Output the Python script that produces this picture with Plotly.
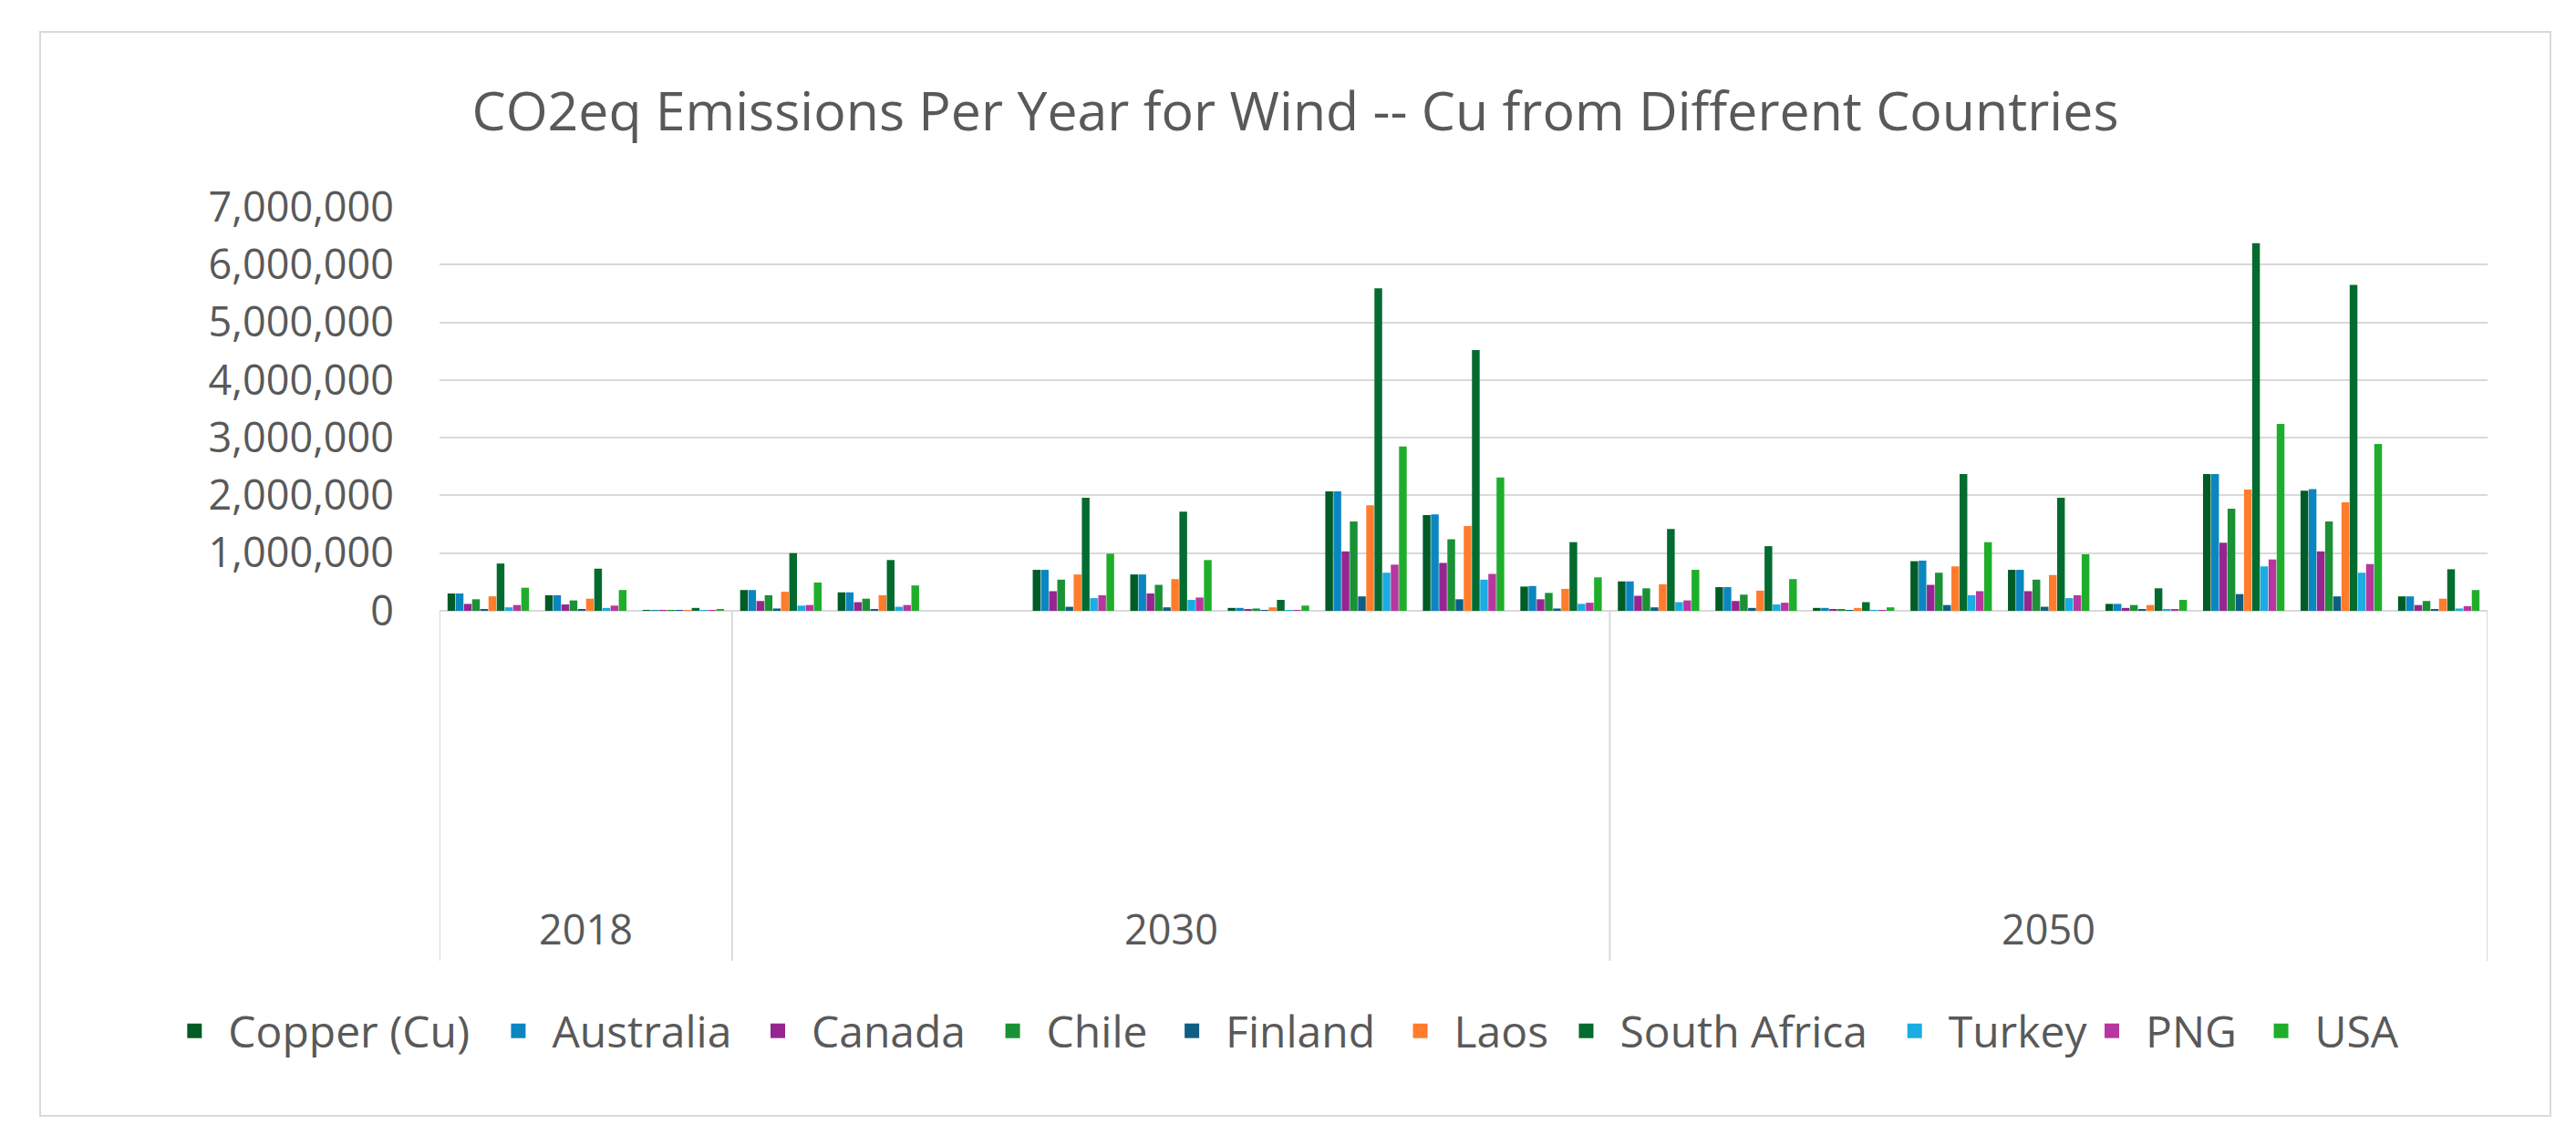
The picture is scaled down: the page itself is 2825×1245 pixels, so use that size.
import plotly.graph_objects as go

# ---- data ----
year_names = ["2018", "2030", "2050"]
groups_per_year = [3, 9, 9]

series_names = ["Copper (Cu)", "Australia", "Canada", "Chile", "Finland",
                "Laos", "South Africa", "Turkey", "PNG", "USA"]

copper = [300000, 270000, 5000, 360000, 320000, 0, 710000, 630000, 50000, 2070000, 1660000, 420000,
          510000, 410000, 50000, 860000, 710000, 120000, 2370000, 2080000, 250000]
australia = [300000, 270000, 5000, 360000, 320000, 0, 710000, 630000, 50000, 2070000, 1670000, 430000,
             510000, 410000, 50000, 870000, 710000, 120000, 2370000, 2110000, 250000]
canada = [120000, 110000, 2000, 170000, 150000, 0, 340000, 300000, 30000, 1030000, 830000, 200000,
          260000, 170000, 20000, 450000, 340000, 50000, 1180000, 1030000, 100000]
chile = [200000, 180000, 3000, 270000, 210000, 0, 540000, 450000, 40000, 1550000, 1240000, 310000,
         390000, 280000, 30000, 660000, 540000, 100000, 1770000, 1550000, 170000]
finland = [30000, 20000, 1000, 40000, 20000, 0, 70000, 60000, 10000, 250000, 200000, 40000,
           60000, 50000, 10000, 100000, 70000, 20000, 290000, 250000, 20000]
laos = [250000, 210000, 3000, 330000, 270000, 0, 630000, 550000, 60000, 1830000, 1470000, 380000,
        460000, 350000, 50000, 770000, 620000, 100000, 2100000, 1880000, 210000]
south_africa = [820000, 730000, 50000, 1000000, 880000, 0, 1960000, 1720000, 190000, 5590000, 4520000, 1190000,
                1420000, 1120000, 150000, 2370000, 1960000, 390000, 6370000, 5650000, 720000]
turkey = [60000, 50000, 1000, 90000, 70000, 0, 220000, 190000, 10000, 660000, 540000, 120000,
          150000, 110000, 10000, 270000, 220000, 20000, 770000, 660000, 40000]
png = [100000, 90000, 1000, 100000, 100000, 0, 270000, 230000, 10000, 800000, 640000, 140000,
       180000, 140000, 10000, 340000, 270000, 20000, 890000, 810000, 80000]
usa = [400000, 360000, 20000, 490000, 440000, 0, 990000, 880000, 90000, 2850000, 2310000, 580000,
       710000, 550000, 60000, 1190000, 980000, 190000, 3240000, 2890000, 360000]

series_values = [copper, australia, canada, chile, finland, laos, south_africa, turkey, png, usa]
colors = ["#005c27", "#0c86c0", "#962590", "#1a9135", "#0f5f85",
          "#ff7c2c", "#036b2f", "#1aace3", "#b8369f", "#1fae2c"]

# horizontal placement (paper x, left edge) of each legend entry
legend_x = [-0.1361, 0.0220, 0.1487, 0.2634, 0.3509, 0.4624, 0.5434, 0.7038, 0.8001, 0.8827]

TEXT = "#595959"
GRID = "#d9d9d9"
FONT = "Open Sans"
LEGEND_Y = -1.0406

# category keys (one per cluster of bars); labels are not shown
categories = []
for yname, n in zip(year_names, groups_per_year):
    categories += [f"{yname} #{k + 1}" for k in range(n)]

fig = go.Figure()
legend_layout = {}
for i, (name, vals, col) in enumerate(zip(series_names, series_values, colors)):
    key = "legend" if i == 0 else f"legend{i + 1}"
    fig.add_trace(go.Bar(x=categories, y=vals, name=name, legendgroup=name, showlegend=False,
                         marker=dict(color=col, line=dict(width=0))))
    # legend key: a square swatch like the reference's (no data drawn)
    fig.add_trace(go.Scatter(x=[None], y=[None], mode="markers", name=name, legendgroup=name,
                             legend=key, showlegend=True, hoverinfo="skip",
                             marker=dict(symbol="square", size=16, color=col, line=dict(width=0))))
    legend_layout[key] = dict(orientation="h", x=legend_x[i], xanchor="left",
                              y=LEGEND_Y, yanchor="middle", itemwidth=64,
                              bgcolor="rgba(0,0,0,0)", borderwidth=0,
                              font=dict(family=FONT, size=48, color=TEXT))

fig.update_layout(
    width=2825, height=1245,
    paper_bgcolor="white", plot_bgcolor="white",
    margin=dict(l=474, r=105, t=219, b=583),
    barmode="group", bargap=0.16, bargroupgap=0.06,
    font=dict(family=FONT, color=TEXT, size=45),
    title=dict(text="CO2eq Emissions Per Year for Wind -- Cu from Different Countries",
               x=0.5, xanchor="center", y=1 - 114 / 1245, yanchor="middle",
               font=dict(family=FONT, size=59, color=TEXT)),
    showlegend=True,
    **legend_layout,
)

fig.update_yaxes(range=[0, 7000000], dtick=1000000, tickformat=",d",
                 showgrid=True, gridcolor=GRID, gridwidth=2,
                 zeroline=True, zerolinecolor=GRID, zerolinewidth=2,
                 showline=False, ticks="outside", ticklen=40, tickcolor="rgba(0,0,0,0)",
                 tickfont=dict(family=FONT, size=45, color=TEXT))
fig.update_xaxes(type="category", categoryorder="array", categoryarray=categories,
                 range=[-0.5, len(categories) - 0.5],
                 showticklabels=False, showgrid=False,
                 zeroline=False, showline=False, ticks="")

# year group dividers and labels, placed on the category axis
DIV_BOTTOM = -0.8668
LABEL_Y = -0.7856
start = 0
boundaries = [-0.5]
for yname, n in zip(year_names, groups_per_year):
    end = start + n
    boundaries.append(end - 0.5)
    fig.add_annotation(x=(start + end - 1) / 2, xref="x", y=LABEL_Y, yref="paper",
                       text=yname, showarrow=False, yanchor="middle",
                       font=dict(family=FONT, size=45, color=TEXT))
    start = end
for b in boundaries:
    fig.add_shape(type="line", xref="x", yref="paper", x0=b, x1=b, y0=0, y1=DIV_BOTTOM,
                  line=dict(color=GRID, width=2))

# outer chart border
fig.add_shape(type="rect", xref="paper", yref="paper",
              x0=-0.195, x1=1.0307, y0=-1.2506, y1=1.4334,
              line=dict(color=GRID, width=2), fillcolor="rgba(0,0,0,0)", layer="below")

fig.write_html("out.html")
